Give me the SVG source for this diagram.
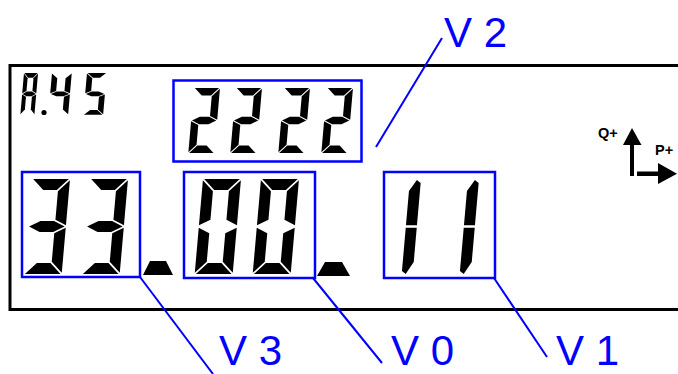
<svg xmlns="http://www.w3.org/2000/svg" xmlns:xlink="http://www.w3.org/1999/xlink" width="678" height="374" viewBox="0 0 678 374">
  <style>
    .frame { fill: none; stroke: #000; stroke-width: 3; }
    .box { fill: none; stroke: #0000ff; stroke-width: 2.5; }
    .lead { stroke: #0000ff; stroke-width: 2; fill: none; }
    .seg { fill: #000; }
    .lbl { font-family: "Liberation Sans", Arial, sans-serif; font-size: 42px; fill: #0000ff; }
    .pq { font-family: "Liberation Sans", Arial, sans-serif; font-size: 14.5px; font-weight: bold; fill: #000; }
  </style>
  <defs>
    <polygon id="sa" class="seg" points="1.2,0 36.8,0 25.8,11 12.2,11"/>
    <polygon id="sb" class="seg" points="38,1.2 38,46.3 27,40.8 27,12.2"/>
    <polygon id="sc" class="seg" points="38,48.7 38,93.8 27,82.8 27,54.2"/>
    <polygon id="sd" class="seg" points="12.2,84 25.8,84 36.8,95 1.2,95"/>
    <polygon id="se" class="seg" points="0,48.7 11,54.2 11,82.8 0,93.8"/>
    <polygon id="sf" class="seg" points="0,1.2 11,12.2 11,40.8 0,46.3"/>
    <polygon id="sg" class="seg" points="1.2,47.5 12.2,42 25.8,42 36.8,47.5 25.8,53 12.2,53"/>
    <polygon id="su1" class="seg" points="34,1 38,4 38,46.3 27,46.3 27,12"/>
    <polygon id="sl1" class="seg" points="27,48.7 38,48.7 38,83 31,95 27,92"/>
    <g id="d0"><use xlink:href="#sa"/><use xlink:href="#sb"/><use xlink:href="#sc"/><use xlink:href="#sd"/><use xlink:href="#se"/><use xlink:href="#sf"/></g>
    <g id="d1"><use xlink:href="#su1"/><use xlink:href="#sl1"/></g>
    <g id="d2"><use xlink:href="#sa"/><use xlink:href="#sb"/><use xlink:href="#sg"/><use xlink:href="#se"/><use xlink:href="#sd"/></g>
    <g id="d3"><use xlink:href="#sa"/><use xlink:href="#sb"/><use xlink:href="#sg"/><use xlink:href="#sc"/><use xlink:href="#sd"/></g>
    <g id="d4"><use xlink:href="#sf"/><use xlink:href="#sg"/><use xlink:href="#sb"/><use xlink:href="#sc"/></g>
    <g id="d5"><use xlink:href="#sa"/><use xlink:href="#sf"/><use xlink:href="#sg"/><use xlink:href="#sc"/><use xlink:href="#sd"/></g>
    <g id="dA"><use xlink:href="#sa"/><use xlink:href="#sb"/><use xlink:href="#sc"/><use xlink:href="#se"/><use xlink:href="#sf"/><use xlink:href="#sg"/></g>
  </defs>

  <rect width="678" height="374" fill="#fff"/>

  <g id="lcd-frame">
    <rect class="frame" x="10" y="65.5" width="700" height="244"/>
  </g>

  <g id="indicator-a45">
    <use xlink:href="#dA" transform="translate(24,73) skewX(-5) scale(0.37,0.44)"/>
    <circle cx="44" cy="112.5" r="2.6" fill="#000"/>
    <use xlink:href="#d4" transform="translate(52,73) skewX(-5) scale(0.52,0.44)"/>
    <use xlink:href="#d5" transform="translate(87,73) skewX(-5) scale(0.52,0.44)"/>
  </g>

  <g id="field-v2">
    <rect class="box" x="173.5" y="80.5" width="188" height="81"/>
    <use xlink:href="#d2" transform="translate(194,88) skewX(-5) scale(0.684)"/>
    <use xlink:href="#d2" transform="translate(236,88) skewX(-5) scale(0.684)"/>
    <use xlink:href="#d2" transform="translate(284,88) skewX(-5) scale(0.684)"/>
    <use xlink:href="#d2" transform="translate(327,88) skewX(-5) scale(0.684)"/>
  </g>

  <g id="field-v3">
    <rect class="box" x="22" y="172" width="118" height="105"/>
    <use xlink:href="#d3" transform="translate(32,179) skewX(-5)"/>
    <use xlink:href="#d3" transform="translate(90,179) skewX(-5)"/>
  </g>
  <polygon id="dp1" class="seg" points="150,261 166,261 173,275 143,275"/>

  <g id="field-v0">
    <rect class="box" x="184" y="172" width="131" height="106"/>
    <use xlink:href="#d0" transform="translate(203,179) skewX(-5)"/>
    <use xlink:href="#d0" transform="translate(261,179) skewX(-5)"/>
  </g>
  <polygon id="dp2" class="seg" points="325,262 342,262 350,276 317,276"/>

  <g id="field-v1">
    <rect class="box" x="384" y="172" width="111" height="106"/>
    <use xlink:href="#d1" transform="translate(383,179) skewX(-5)"/>
    <use xlink:href="#d1" transform="translate(441,179) skewX(-5)"/>
  </g>

  <g id="indicator-pq">
    <text class="pq" x="598" y="138">Q+</text>
    <polygon points="623,145 632,128 641.5,145" fill="#000"/>
    <rect x="630" y="144" width="4" height="32" fill="#000"/>
    <text class="pq" x="655" y="155">P+</text>
    <rect x="637" y="171.5" width="22" height="4.5" fill="#000"/>
    <polygon points="658,163 677,173.7 658,184" fill="#000"/>
  </g>

  <g id="connectors">
    <line class="lead" x1="376" y1="147" x2="442" y2="38"/>
    <line class="lead" x1="140" y1="277" x2="213" y2="374"/>
    <line class="lead" x1="313" y1="278" x2="382" y2="363"/>
    <line class="lead" x1="494" y1="278" x2="547" y2="357"/>
  </g>

  <g id="label-v2"><text class="lbl" x="444" y="47">V 2</text></g>
  <g id="label-v3"><text class="lbl" x="219" y="365">V 3</text></g>
  <g id="label-v0"><text class="lbl" x="391" y="365">V 0</text></g>
  <g id="label-v1"><text class="lbl" x="556" y="365">V 1</text></g>
</svg>
